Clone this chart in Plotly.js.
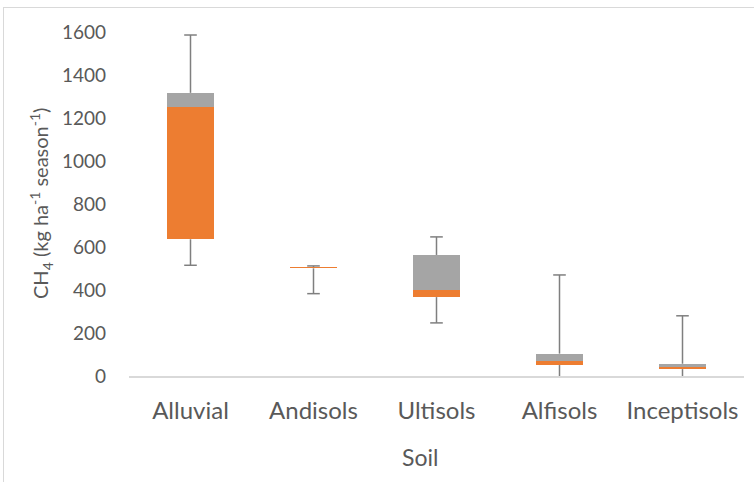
<!DOCTYPE html>
<html>
<head>
<meta charset="utf-8">
<script src="https://cdn.plot.ly/plotly-3.0.1.min.js"></script>
<style>
  html, body { margin: 0; padding: 0; background: #fff; overflow: hidden; }
  #wrap { position: relative; width: 754px; height: 482px; }
  #chart { width: 754px; height: 482px; }
  #frame { position: absolute; left: 3px; top: 7px; width: 800px; height: 520px;
           border: 1.5px solid #d9d9d9; pointer-events: none; }
</style>
</head>
<body>
<div id="wrap">
  <div id="chart"></div>
  <div id="frame"></div>
</div>
<script>
const categories = ['Alluvial', 'Andisols', 'Ultisols', 'Alfisols', 'Inceptisols'];
const minVals    = [515, 383, 247, 0, 0];
const q1Vals     = [636, 501, 367, 51, 32];
const medianVals = [1250, 507, 400, 70, 43];
const q3Vals     = [1317, 507, 563, 104, 57];
const maxVals    = [1586, 512, 647, 470, 280];
const yTickVals  = [0, 200, 400, 600, 800, 1000, 1200, 1400, 1600];

const ORANGE = '#ED7D31';
const GREY = '#A5A5A5';
const WHISK = '#7f7f7f';
const FONT = 'Lato, "Open Sans", sans-serif';

// whisker stems (built from data arrays)
const stemX = [], stemY = [];
categories.forEach((c, i) => {
  stemX.push(c, c, null, c, c, null);
  stemY.push(q3Vals[i], maxVals[i], null, q1Vals[i], minVals[i], null);
});

const traces = [
  { type: 'bar', x: categories, y: q1Vals, marker: { color: 'rgba(0,0,0,0)' },
    hoverinfo: 'skip', showlegend: false },
  { type: 'bar', x: categories, y: medianVals.map((m, i) => m - q1Vals[i]),
    marker: { color: ORANGE }, showlegend: false, name: 'Q1–Median' },
  { type: 'bar', x: categories, y: q3Vals.map((q, i) => q - medianVals[i]),
    marker: { color: GREY }, showlegend: false, name: 'Median–Q3' },
  { type: 'scatter', mode: 'lines', x: stemX, y: stemY, connectgaps: false,
    line: { color: WHISK, width: 1.5 }, hoverinfo: 'skip', showlegend: false, cliponaxis: false },
  { type: 'scatter', mode: 'markers', x: categories.concat(categories),
    y: maxVals.concat(minVals.map(v => v > 0 ? v : null)),
    marker: { symbol: 'line-ew', size: 9, line: { color: WHISK, width: 1.5 } },
    hoverinfo: 'skip', showlegend: false, cliponaxis: false }
];

const layout = {
  width: 754, height: 482,
  margin: { l: 129, r: 10, t: 32, b: 106 },
  paper_bgcolor: '#fff', plot_bgcolor: '#fff',
  barmode: 'stack', bargap: 0.61,
  showlegend: false,
  font: { family: FONT, color: '#595959' },
  xaxis: {
    type: 'category', categoryarray: categories,
    showgrid: false, zeroline: false,
    showline: true, linecolor: '#d9d9d9', linewidth: 1.5,
    ticks: '', tickfont: { size: 24, color: '#595959', family: FONT },
    ticklabelstandoff: 13
  },
  yaxis: {
    range: [0, 1600], tickvals: yTickVals,
    showgrid: false, zeroline: false, showline: false, ticks: '',
    tickfont: { size: 19, color: '#595959', family: FONT },
    ticklabelstandoff: 22
  },
  annotations: [
    { text: 'CH<sub>4</sub> (kg ha<sup>-1</sup> season<sup>-1</sup>)',
      xref: 'paper', yref: 'paper', x: (41 - 129) / 615, y: 0.5,
      xanchor: 'center', yanchor: 'middle', textangle: -90, showarrow: false,
      font: { size: 20, color: '#595959', family: FONT } },
    { text: 'Soil', xref: 'paper', yref: 'paper',
      x: (420 - 129) / 615, y: -(457 - 376) / 344,
      xanchor: 'center', yanchor: 'middle', showarrow: false,
      font: { size: 23, color: '#595959', family: FONT } }
  ]
};

Plotly.newPlot('chart', traces, layout, { displayModeBar: false, staticPlot: true });
</script>
</body>
</html>
